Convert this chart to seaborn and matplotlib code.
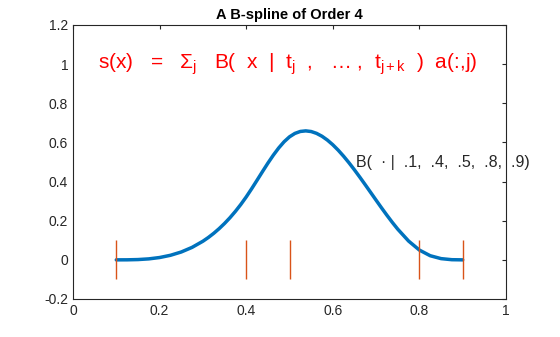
import numpy as np
import pandas as pd
import matplotlib
matplotlib.use("Agg")
import matplotlib.pyplot as plt
import seaborn as sns

# Data
x_vals = [0.1, 0.125, 0.15, 0.175, 0.2, 0.225, 0.25, 0.275, 0.3, 0.3125, 0.325, 0.3375,
          0.35, 0.3625, 0.375, 0.3875, 0.4, 0.4125, 0.425, 0.4375, 0.45, 0.4625, 0.475,
          0.4875, 0.5, 0.5125, 0.525, 0.5375, 0.55, 0.5625, 0.575, 0.5875, 0.6, 0.6125,
          0.625, 0.6375, 0.65, 0.6625, 0.675, 0.6875, 0.7, 0.7125, 0.725, 0.7375, 0.75,
          0.775, 0.8, 0.825, 0.85, 0.875, 0.9]
y_vals = [0.0, 0.0002, 0.0015, 0.0050, 0.0119, 0.0233, 0.0402, 0.0638, 0.0952, 0.1142,
          0.1356, 0.1595, 0.1860, 0.2153, 0.2476, 0.2829, 0.3214, 0.3631, 0.4066, 0.4506,
          0.4938, 0.5345, 0.5715, 0.6034, 0.6286, 0.6461, 0.6561, 0.6590, 0.6557, 0.6463,
          0.6316, 0.6120, 0.5881, 0.5604, 0.5294, 0.4957, 0.4598, 0.4222, 0.3835, 0.3442,
          0.3048, 0.2658, 0.2278, 0.1913, 0.1568, 0.0962, 0.05, 0.0211, 0.0063, 0.0008, 0.0]
knots = [0.1, 0.4, 0.5, 0.8, 0.9]
knot_low, knot_high = -0.1, 0.1
title_text = "A B-spline of Order 4"
formula_text = r"s(x)   =   $\Sigma_j$   B(  x  |  $t_j$  ,   … ,  $t_{j+k}$  )  a(:,j)"
label_text = "B(  · |  .1,  .4,  .5,  .8,  .9)"
x_ticks = [0, 0.2, 0.4, 0.6, 0.8, 1]
x_ticklabels = ["0", "0.2", "0.4", "0.6", "0.8", "1"]
y_ticks = [-0.2, 0, 0.2, 0.4, 0.6, 0.8, 1, 1.2]
y_ticklabels = ["-0.2", "0", "0.2", "0.4", "0.6", "0.8", "1", "1.2"]

sns.set_style("white")
plt.rcParams["font.family"] = ["Liberation Sans", "DejaVu Sans"]
plt.rcParams["mathtext.default"] = "regular"
plt.rcParams["mathtext.fontset"] = "custom"
plt.rcParams["mathtext.rm"] = "Liberation Sans"
plt.rcParams["mathtext.it"] = "Liberation Sans"

fig = plt.figure(figsize=(5.6, 3.37), dpi=100)
ax = fig.add_axes([73 / 560, 1 - 299 / 337, (506 - 73) / 560, (299 - 25) / 337])

df = pd.DataFrame({"x": x_vals, "y": y_vals})
sns.lineplot(data=df, x="x", y="y", ax=ax, color="#0072BD", linewidth=2.5, zorder=2)
ax.vlines(knots, knot_low, knot_high, color="#D95319", linewidth=1.0, zorder=3)

ax.set_xlim(0, 1)
ax.set_ylim(-0.2, 1.2)
ax.set_xticks(x_ticks)
ax.set_xticklabels(x_ticklabels)
ax.set_yticks(y_ticks)
ax.set_yticklabels(y_ticklabels)
ax.set_xlabel("")
ax.set_ylabel("")
ax.tick_params(direction="in", length=3, width=0.8, colors="#262626", labelsize=10,
               top=True, right=True, labeltop=False, labelright=False, pad=3.5)
for s in ax.spines.values():
    s.set_visible(True)
    s.set_color("#262626")
    s.set_linewidth(0.8)

ax.set_title(title_text, fontsize=10.5, fontweight="bold", color="#000000", pad=4)
ax.text(0.058, 1.0, formula_text, color="red", fontsize=15, va="center", ha="left")
ax.text(0.654, 0.5, label_text, color="#262626", fontsize=11.5, va="center", ha="left",
        clip_on=False)

fig.savefig("out.png", dpi=100, facecolor="white")
